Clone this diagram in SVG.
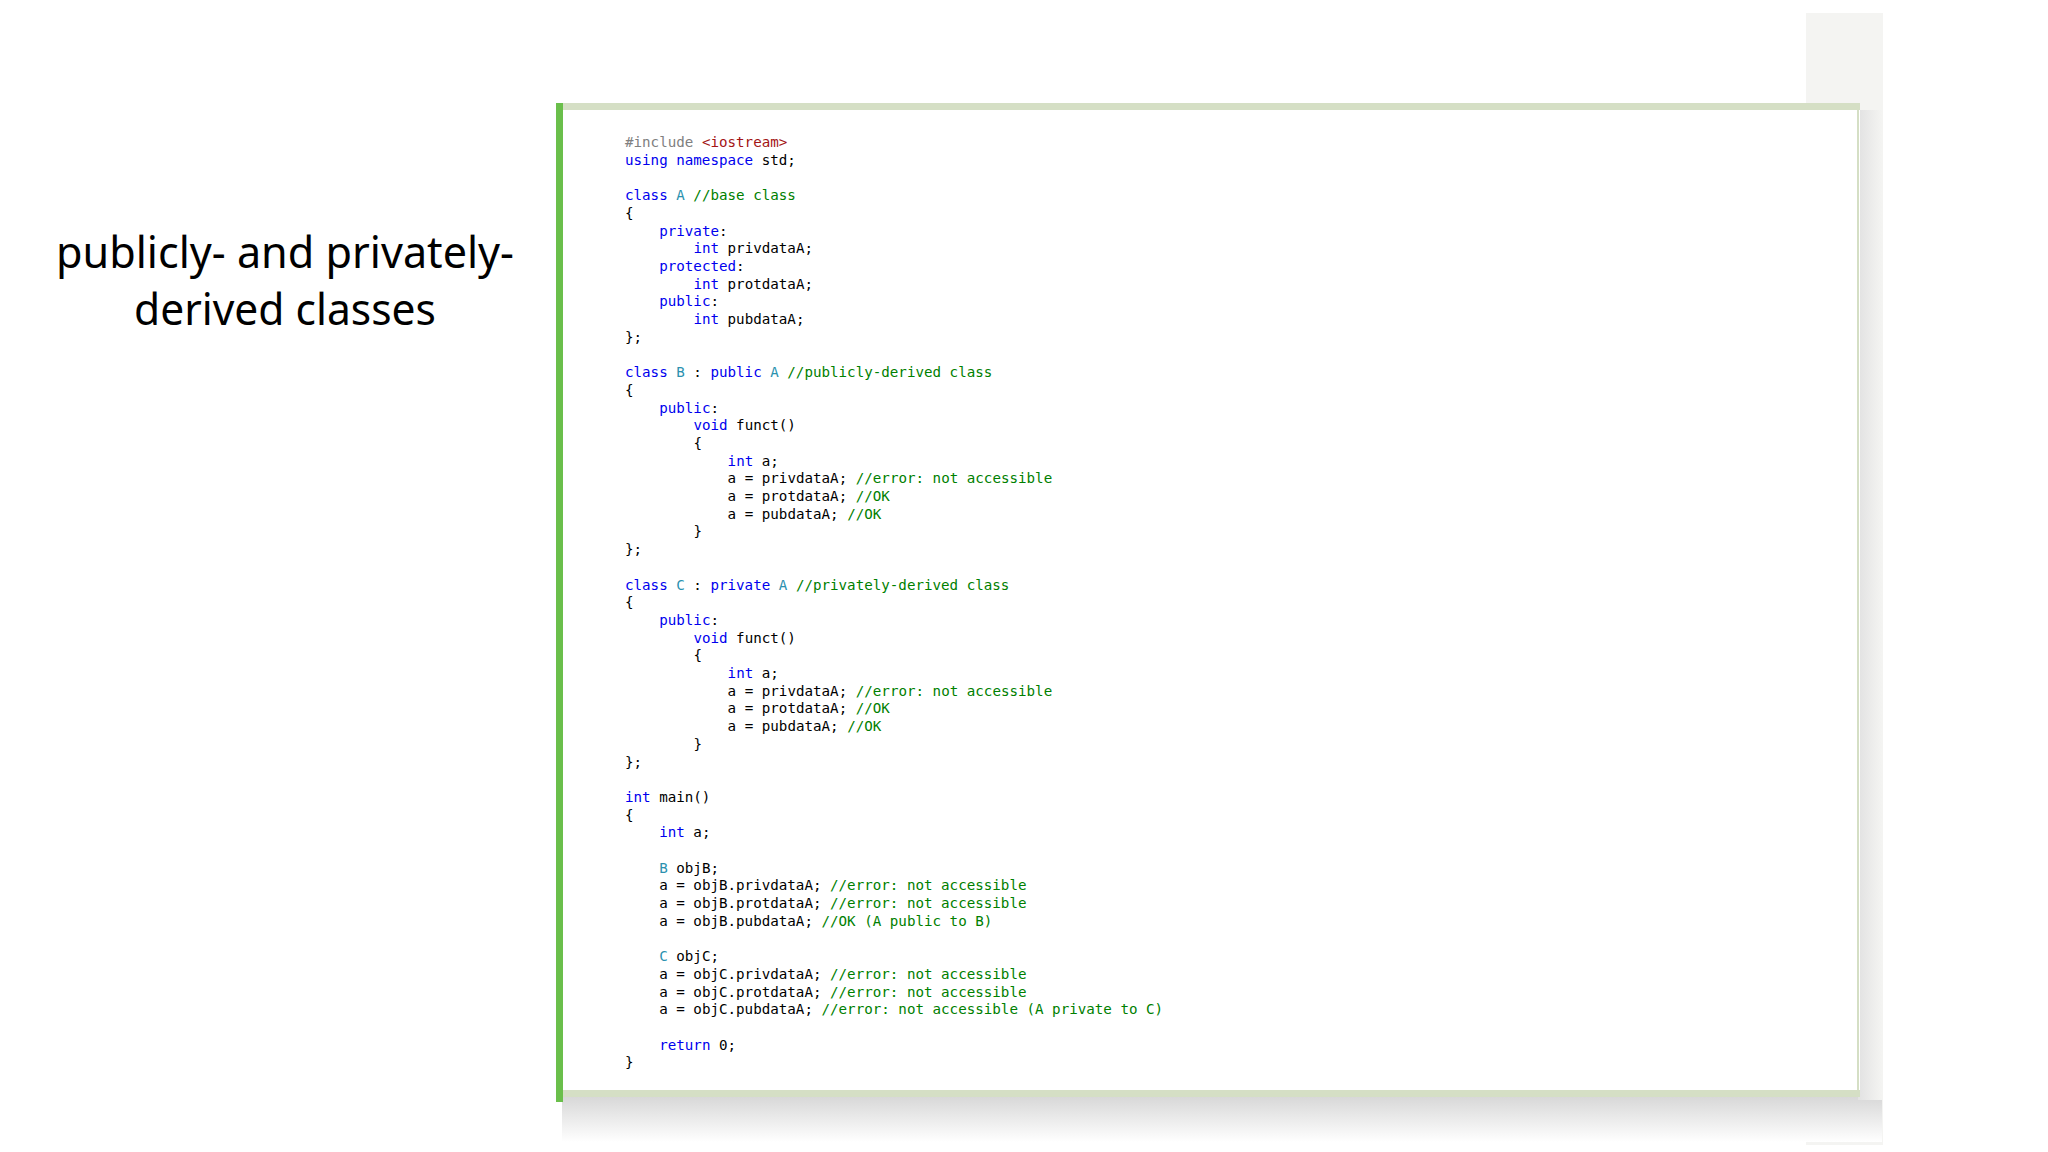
<svg xmlns="http://www.w3.org/2000/svg" width="2048" height="1152" viewBox="0 0 2048 1152">
<defs>
<linearGradient id="sh" x1="0" y1="0" x2="0" y2="1"><stop offset="0" stop-color="#d8d8d8"/><stop offset="1" stop-color="#ffffff"/></linearGradient>
<linearGradient id="shr" x1="0" y1="0" x2="1" y2="0"><stop offset="0" stop-color="#e2e2e2"/><stop offset="1" stop-color="#f4f4f2"/></linearGradient>
</defs>
<style>
.c{font-family:"DejaVu Sans Mono","Liberation Mono",monospace;font-size:14.2px;fill:#000}
.k{fill:#0000ee}.t{fill:#2b91af}.g{fill:#008000}.p{fill:#808080}.s{fill:#a31515}
.title{font-family:"Noto Sans","Open Sans",sans-serif;font-size:44px;fill:#000}
</style>
<rect width="2048" height="1152" fill="#fff"/>
<rect x="1806" y="13" width="77" height="1132" fill="#f4f4f2"/>
<rect x="562" y="1097" width="1320" height="45" fill="url(#sh)"/>
<rect x="1858" y="110" width="24" height="990" fill="url(#shr)"/>
<g id="frame">
<rect x="560" y="103" width="1300" height="994" fill="#fff"/>
<rect x="560" y="103" width="1300" height="7" fill="#d5dfc5"/>
<rect x="560" y="1090" width="1300" height="7" fill="#d5dfc5"/>
<rect x="1857" y="103" width="2" height="994" fill="#d5dfc5"/>
<rect x="556" y="103" width="7" height="999" fill="#6abf4b"/>
</g>
<g id="title">
<text class="title" x="285" y="268" text-anchor="middle" textLength="458" lengthAdjust="spacingAndGlyphs">publicly- and privately-</text>
<text class="title" x="285" y="325" text-anchor="middle" textLength="302" lengthAdjust="spacingAndGlyphs">derived classes</text>
</g>
<g id="code" class="c">
<text x="625" y="147"><tspan class="p">#include</tspan> <tspan class="s">&lt;iostream&gt;</tspan></text>
<text x="625" y="164.7"><tspan class="k">using namespace</tspan> std;</text>
<text x="625" y="200.1"><tspan class="k">class</tspan> <tspan class="t">A</tspan> <tspan class="g">//base class</tspan></text>
<text x="625" y="217.8">{</text>
<text x="659.2" y="235.5"><tspan class="k">private</tspan>:</text>
<text x="693.4" y="253.2"><tspan class="k">int</tspan> privdataA;</text>
<text x="659.2" y="270.9"><tspan class="k">protected</tspan>:</text>
<text x="693.4" y="288.6"><tspan class="k">int</tspan> protdataA;</text>
<text x="659.2" y="306.3"><tspan class="k">public</tspan>:</text>
<text x="693.4" y="324"><tspan class="k">int</tspan> pubdataA;</text>
<text x="625" y="341.7">};</text>
<text x="625" y="377.1"><tspan class="k">class</tspan> <tspan class="t">B</tspan> : <tspan class="k">public</tspan> <tspan class="t">A</tspan> <tspan class="g">//publicly-derived class</tspan></text>
<text x="625" y="394.8">{</text>
<text x="659.2" y="412.5"><tspan class="k">public</tspan>:</text>
<text x="693.4" y="430.2"><tspan class="k">void</tspan> funct()</text>
<text x="693.4" y="447.9">{</text>
<text x="727.6" y="465.6"><tspan class="k">int</tspan> a;</text>
<text x="727.6" y="483.3">a = privdataA; <tspan class="g">//error: not accessible</tspan></text>
<text x="727.6" y="501">a = protdataA; <tspan class="g">//OK</tspan></text>
<text x="727.6" y="518.7">a = pubdataA; <tspan class="g">//OK</tspan></text>
<text x="693.4" y="536.4">}</text>
<text x="625" y="554.1">};</text>
<text x="625" y="589.5"><tspan class="k">class</tspan> <tspan class="t">C</tspan> : <tspan class="k">private</tspan> <tspan class="t">A</tspan> <tspan class="g">//privately-derived class</tspan></text>
<text x="625" y="607.2">{</text>
<text x="659.2" y="624.9"><tspan class="k">public</tspan>:</text>
<text x="693.4" y="642.6"><tspan class="k">void</tspan> funct()</text>
<text x="693.4" y="660.3">{</text>
<text x="727.6" y="678"><tspan class="k">int</tspan> a;</text>
<text x="727.6" y="695.7">a = privdataA; <tspan class="g">//error: not accessible</tspan></text>
<text x="727.6" y="713.4">a = protdataA; <tspan class="g">//OK</tspan></text>
<text x="727.6" y="731.1">a = pubdataA; <tspan class="g">//OK</tspan></text>
<text x="693.4" y="748.8">}</text>
<text x="625" y="766.5">};</text>
<text x="625" y="801.9"><tspan class="k">int</tspan> main()</text>
<text x="625" y="819.6">{</text>
<text x="659.2" y="837.3"><tspan class="k">int</tspan> a;</text>
<text x="659.2" y="872.7"><tspan class="t">B</tspan> objB;</text>
<text x="659.2" y="890.4">a = objB.privdataA; <tspan class="g">//error: not accessible</tspan></text>
<text x="659.2" y="908.1">a = objB.protdataA; <tspan class="g">//error: not accessible</tspan></text>
<text x="659.2" y="925.8">a = objB.pubdataA; <tspan class="g">//OK (A public to B)</tspan></text>
<text x="659.2" y="961.2"><tspan class="t">C</tspan> objC;</text>
<text x="659.2" y="978.9">a = objC.privdataA; <tspan class="g">//error: not accessible</tspan></text>
<text x="659.2" y="996.6">a = objC.protdataA; <tspan class="g">//error: not accessible</tspan></text>
<text x="659.2" y="1014.3">a = objC.pubdataA; <tspan class="g">//error: not accessible (A private to C)</tspan></text>
<text x="659.2" y="1049.7"><tspan class="k">return</tspan> 0;</text>
<text x="625" y="1067.4">}</text>
</g>
</svg>
